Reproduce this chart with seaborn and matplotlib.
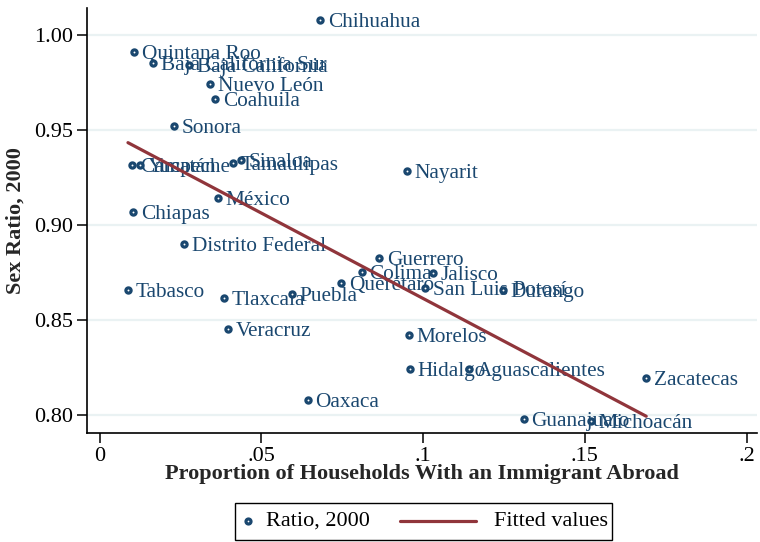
import matplotlib
matplotlib.use("Agg")
import matplotlib.pyplot as plt
from matplotlib.lines import Line2D
from matplotlib.patches import Rectangle
import numpy as np
import pandas as pd
import seaborn as sns

# Mexican states: share of households with a migrant abroad vs. sex ratio (2000)
states = ["Chihuahua", "Quintana Roo", "Baja California Sur", "Baja California",
          "Nuevo León", "Coahuila", "Sonora", "Campeche", "Yucatán", "Tamaulipas",
          "Sinaloa", "Nayarit", "México", "Chiapas", "Distrito Federal", "Guerrero",
          "Jalisco", "Colima", "Querétaro", "San Luis Potosí", "Durango", "Tabasco",
          "Tlaxcala", "Puebla", "Veracruz", "Morelos", "Hidalgo", "Aguascalientes",
          "Zacatecas", "Oaxaca", "Guanajuato", "Michoacán"]
prop_abroad = [0.0682, 0.0107, 0.0166, 0.0277, 0.0342, 0.0357, 0.0230, 0.0101, 0.0126,
               0.0413, 0.0437, 0.0951, 0.0366, 0.0104, 0.0261, 0.0864, 0.1031, 0.0811,
               0.0747, 0.1006, 0.1247, 0.0088, 0.0385, 0.0595, 0.0397, 0.0957, 0.0960,
               0.1142, 0.1690, 0.0644, 0.1312, 0.1519]
sex_ratio = [1.0079, 0.9910, 0.9853, 0.9842, 0.9742, 0.9663, 0.9521, 0.9316, 0.9316,
             0.9326, 0.9340, 0.9284, 0.9142, 0.9068, 0.8900, 0.8826, 0.8747, 0.8753,
             0.8695, 0.8668, 0.8658, 0.8658, 0.8616, 0.8637, 0.8453, 0.8421, 0.8242,
             0.8242, 0.8195, 0.8079, 0.7979, 0.7968]
x_ticks = [0, 0.05, 0.1, 0.15, 0.2]
x_ticklabels = ["0", ".05", ".1", ".15", ".2"]
y_ticks = [0.80, 0.85, 0.90, 0.95, 1.00]
y_ticklabels = ["0.80", "0.85", "0.90", "0.95", "1.00"]
legend_labels = ["Ratio, 2000", "Fitted values"]

df = pd.DataFrame({"state": states, "prop": prop_abroad, "ratio": sex_ratio})

NAVY = "#1a476f"
MAROON = "#90353b"
W, H = 760, 542

sns.set_theme(style="white")
plt.rcParams["font.family"] = ["Liberation Serif", "DejaVu Serif"]

fig = plt.figure(figsize=(W / 100, H / 100), dpi=100)
ax = fig.add_axes([87 / W, 1 - 433 / H, (757 - 87) / W, (433 - 8) / H])

# horizontal grid
for yt in y_ticks:
    ax.axhline(yt, color="#eaf2f3", lw=1.6, zorder=0)

sns.scatterplot(data=df, x="prop", y="ratio", ax=ax, marker="o", s=14,
                facecolor="white", edgecolor=NAVY, linewidth=2.3, zorder=3,
                legend=False)
sns.regplot(data=df, x="prop", y="ratio", ax=ax, scatter=False, ci=None,
            line_kws=dict(color=MAROON, lw=2.3, zorder=4))

for s, xv, yv in zip(states, prop_abroad, sex_ratio):
    ax.annotate(s, (xv, yv), xytext=(5.5, 0), textcoords="offset points",
                ha="left", va="center_baseline", fontsize=15.3, color=NAVY,
                zorder=2)

ax.set_xlim((87 - 99.5) / 3235, (757 - 99.5) / 3235)
ax.set_ylim(1 - (433 - 35) / 1900, 1 + (35 - 8) / 1900)
ax.set_xticks(x_ticks)
ax.set_xticklabels(x_ticklabels)
ax.set_yticks(y_ticks)
ax.set_yticklabels(y_ticklabels)
ax.tick_params(axis="both", direction="out", length=7, width=1.1, color="black",
               labelsize=16, labelcolor="black", pad=3, left=True, bottom=True)
ax.grid(False)
for side in ["top", "right"]:
    ax.spines[side].set_visible(False)
for side in ["left", "bottom"]:
    ax.spines[side].set_color("black")
    ax.spines[side].set_linewidth(1.2)

ax.set_xlabel("Proportion of Households With an Immigrant Abroad",
              fontsize=16, fontweight="bold", labelpad=-1)
ax.set_ylabel("Sex Ratio, 2000", fontsize=16, fontweight="bold", labelpad=6)

# legend box below the plot
def fx(px):
    return px / W

def fy(py):
    return 1 - py / H

fig.add_artist(Rectangle((fx(235), fy(540)), fx(612) - fx(235), fy(503) - fy(540),
                         transform=fig.transFigure, facecolor="white",
                         edgecolor="black", lw=1.0))
fig.add_artist(Line2D([fx(248)], [fy(521)], transform=fig.transFigure, ls="none",
                      marker="o", markersize=3.6, markerfacecolor="white",
                      markeredgecolor=NAVY, markeredgewidth=2.3))
fig.text(fx(266), fy(521), legend_labels[0], ha="left", va="center", fontsize=16,
         color="black")
fig.add_artist(Line2D([fx(400), fx(476)], [fy(521), fy(521)],
                      transform=fig.transFigure, color=MAROON, lw=2.3))
fig.text(fx(494), fy(521), legend_labels[1], ha="left", va="center", fontsize=16,
         color="black")

fig.savefig("out.png", dpi=100)
